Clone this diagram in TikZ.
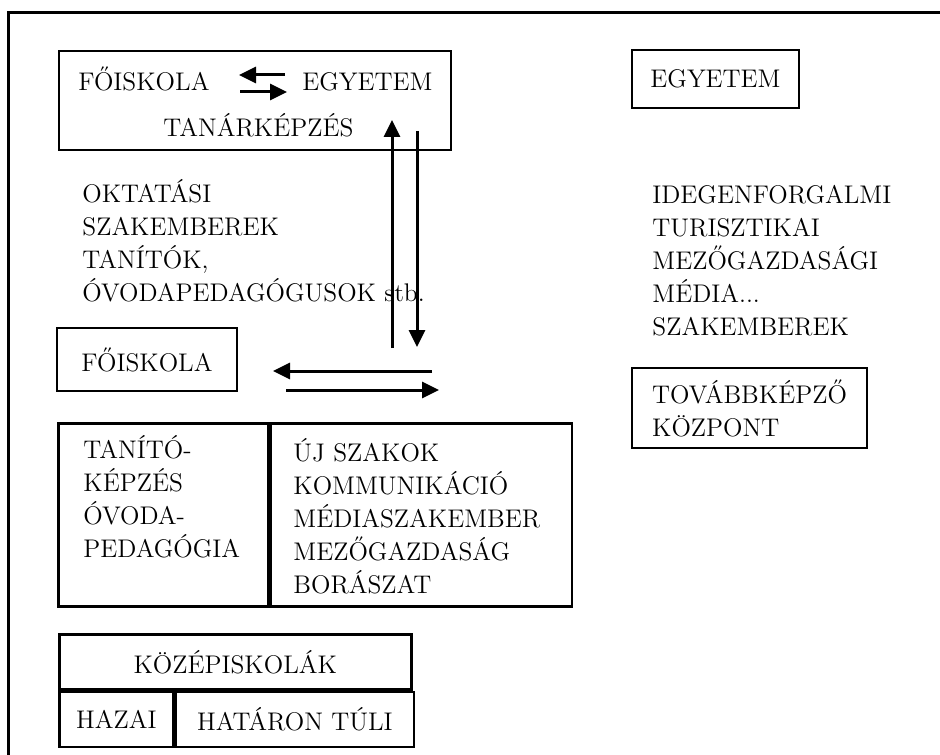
\documentclass[tikz,border=0pt]{standalone}
\usepackage{fontspec}
\usepackage{tikz}
\usetikzlibrary{arrows.meta,positioning}
\newcommand{\mainsize}{\fontsize{12.75}{16.5}\selectfont}
\tikzset{
  frameline/.style={line width=1.5pt,line cap=rect},
  framebox/.style={draw,line width=1.3pt,inner sep=0pt,align=left,
                   font=\mainsize},
  txt/.style={inner sep=0pt,align=left,font=\mainsize},
  flow/.style={-{Triangle[length=8.5pt,width=8pt]},line width=1.5pt}
}

\begin{document}
\begin{tikzpicture}[x=0.5pt,y=-0.5pt]
    \path[use as bounding box] (0,0) rectangle (940,754);
    % outer frame, only its top and left edges are in view
    \draw[frameline] (8,754) -- (8,13) -- (940,13);

    % teacher training block
    \node[framebox,minimum width=196pt,minimum height=49.5pt] (tanarbox) at (255,100.5) {};
    \node[txt,anchor=base west] (fo1) at (78,91) {FŐISKOLA};
    \node[txt,anchor=base west] (egy1) at (302,91) {EGYETEM};
    \node[txt,anchor=base west] (tanar) at (163,137) {TANÁRKÉPZÉS};
    \coordinate (swapLa) at (285,75);
    \coordinate (swapLb) at (239,75);
    \coordinate (swapRa) at (240,92);
    \coordinate (swapRb) at (287,92);
    \draw[flow] (swapLa) -- (swapLb);
    \draw[flow] (swapRa) -- (swapRb);

    \node[framebox,minimum width=83.5pt,minimum height=29pt] (egyetem) at (715.5,79) {EGYETEM};

    % the graduates (base anchor sits on the last line)
    \node[txt,anchor=base west] (oktat) at (82,301)
      {OKTATÁSI\\SZAKEMBEREK\\TANÍTÓK,\\ÓVODAPEDAGÓGUSOK stb.};
    \node[txt,anchor=base west] (idegen) at (652,335)
      {IDEGENFORGALMI\\TURISZTIKAI\\MEZŐGAZDASÁGI\\MÉDIA...\\SZAKEMBEREK};

    % exchange arrows
    \coordinate (upA) at (392,348);
    \coordinate (upB) at (392,120);
    \coordinate (downA) at (417,131);
    \coordinate (downB) at (417,347);
    \draw[flow] (upA) -- (upB);
    \draw[flow] (downA) -- (downB);
    \coordinate (backA) at (432,371);
    \coordinate (backB) at (273,371);
    \coordinate (fwdA) at (286,390);
    \coordinate (fwdB) at (439,390);
    \draw[flow] (backA) -- (backB);
    \draw[flow] (fwdA) -- (fwdB);

    \node[framebox,minimum width=90pt,minimum height=31.5pt] (foiskola) at (147,359.5) {FŐISKOLA};
    \node[framebox,minimum width=117.5pt,minimum height=40pt] (tovabb) at (749.5,408)
      {TOVÁBBKÉPZŐ\\KÖZPONT};

    % college programmes
    \node[framebox,anchor=north west,minimum width=105pt,minimum height=91.5pt] (tanitocell) at (57,422) {};
    \node[framebox,anchor=north west,minimum width=150.5pt,minimum height=91.5pt] (ujcell) at (tanitocell.north east) {};
    \node[txt,anchor=base west] (tanito) at (83,557)
      {TANÍTÓ-\\KÉPZÉS\\ÓVODA-\\PEDAGÓGIA};
    \node[txt,anchor=base west] (uj) at (293,593)
      {ÚJ SZAKOK\\KOMMUNIKÁCIÓ\\MÉDIASZAKEMBER\\MEZŐGAZDASÁG\\BORÁSZAT};

    % secondary schools
    \node[framebox,anchor=north west,minimum width=176pt,minimum height=27.5pt] (kozep) at (58,633) {KÖZÉPISKOLÁK};
    \node[framebox,anchor=north west,minimum width=57pt,minimum height=27.5pt] (hazai) at (kozep.south west) {HAZAI};
    \node[framebox,anchor=north west,minimum width=119pt,minimum height=27.5pt] (hataron) at (hazai.north east) {HATÁRON TÚLI};
\end{tikzpicture}
\end{document}
